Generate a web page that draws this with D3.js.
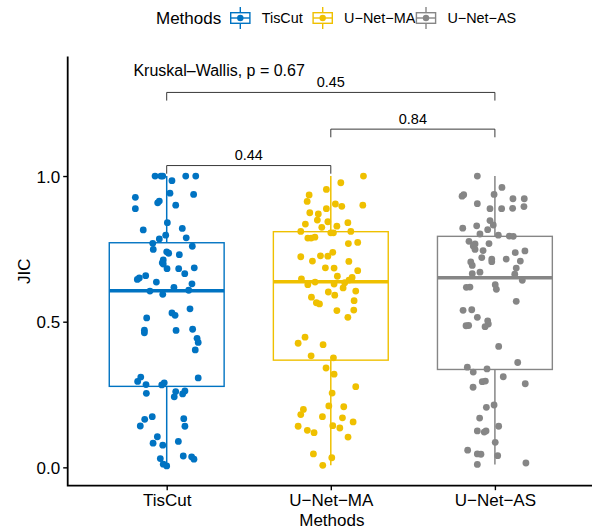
<!DOCTYPE html>
<html>
<head>
<meta charset="utf-8">
<script src="https://cdn.jsdelivr.net/npm/d3@7"></script>
<style>
  body { margin: 0; background: #fff; }
  svg { display: block; }
  text { font-family: "Liberation Sans", Arial, Helvetica, sans-serif; fill: #000; }
</style>
</head>
<body>
<svg id="chart" width="592" height="528"></svg>
<script>
// groups and palette (ggpubr "jco")
var groups = ["TisCut", "U\u2212Net\u2212MA", "U\u2212Net\u2212AS"];
var colors = ["#0073C2", "#EFC000", "#868686"];

// JIC values and horizontal jitter (in category units)
var tisCutJIC = [1.0, 1.0, 1.0, 0.984, 1.0, 1.0, 0.927, 0.941, 0.937, 0.888, 0.908, 0.914, 0.900, 0.840, 0.815, 0.820,
  0.797, 0.784, 0.788, 0.769, 0.748, 0.759, 0.740, 0.735, 0.730, 0.712, 0.702, 0.698, 0.682, 0.682, 0.685, 0.665,
  0.658, 0.645, 0.650, 0.636, 0.630, 0.618, 0.605, 0.608, 0.594, 0.544, 0.530, 0.522, 0.513, 0.471, 0.462, 0.470,
  0.474, 0.443, 0.429, 0.403, 0.310, 0.295, 0.284, 0.283, 0.290, 0.307, 0.260, 0.242, 0.262, 0.252, 0.254, 0.174,
  0.165, 0.142, 0.167, 0.141, 0.105, 0.083, 0.076, 0.089, 0.030, 0.039, 0.036, 0.028, 0.011, 0.005];
var tisCutJitter = [-0.071, -0.035, -0.024, 0.032, 0.116, 0.177, -0.191, 0.020, 0.164, -0.191, -0.055, -0.045, 0.055,
  0.004, -0.143, 0.095, -0.006, -0.045, 0.119, -0.085, -0.082, 0.156, 0.000, 0.012, 0.077, -0.021, -0.027, -0.021,
  0.002, 0.073, 0.168, 0.110, -0.128, -0.179, -0.167, -0.063, 0.154, 0.044, -0.102, 0.134, -0.024, 0.142, 0.032,
  0.051, -0.122, -0.136, -0.136, 0.057, 0.158, 0.185, 0.192, 0.174, -0.158, -0.177, -0.126, -0.030, -0.015, 0.192,
  0.055, 0.046, 0.111, 0.097, -0.124, -0.088, -0.134, -0.161, 0.104, 0.111, -0.057, -0.083, -0.024, 0.071, -0.039,
  0.101, 0.152, 0.166, -0.021, 0.000];

var unetMAJIC = [1.0, 0.977, 0.954, 0.935, 0.913, 0.904, 0.896, 0.900, 0.888, 0.874, 0.870, 0.849, 0.843, 0.835, 0.840,
  0.824, 0.828, 0.810, 0.805, 0.805, 0.810, 0.787, 0.787, 0.790, 0.768, 0.772, 0.723, 0.708, 0.726, 0.725, 0.738,
  0.707, 0.685, 0.684, 0.675, 0.656, 0.647, 0.627, 0.636, 0.629, 0.634, 0.643, 0.652, 0.616, 0.605, 0.602, 0.591,
  0.584, 0.565, 0.561, 0.572, 0.538, 0.540, 0.515, 0.447, 0.426, 0.421, 0.383, 0.376, 0.341, 0.320, 0.277, 0.255,
  0.199, 0.181, 0.211, 0.208, 0.174, 0.170, 0.156, 0.141, 0.143, 0.127, 0.119, 0.135, 0.104, 0.046, 0.033, 0.007];
var unetMAJitter = [0.199, 0.061, -0.027, -0.132, -0.144, 0.028, 0.067, 0.195, -0.027, -0.128, -0.076, -0.082, -0.018,
  -0.155, 0.104, -0.055, 0.037, -0.183, 0.000, 0.016, 0.122, -0.140, -0.120, -0.097, 0.107, 0.164, -0.183, -0.112,
  -0.063, -0.018, 0.012, 0.110, -0.033, 0.020, 0.164, 0.040, -0.179, -0.140, -0.096, 0.020, 0.085, 0.111, 0.130,
  0.075, 0.152, -0.015, 0.024, -0.118, -0.088, -0.069, 0.142, 0.037, 0.140, 0.104, -0.157, -0.199, -0.047, -0.120,
  0.016, -0.029, 0.020, 0.152, 0.008, -0.167, -0.183, -0.012, 0.079, -0.051, 0.071, 0.136, -0.199, 0.012, -0.143,
  -0.102, 0.055, 0.105, -0.106, 0.006, -0.049];

var unetASJIC = [1.0, 0.961, 0.937, 0.931, 0.936, 0.922, 0.922, 0.905, 0.888, 0.888, 0.889, 0.895, 0.847, 0.832, 0.829,
  0.816, 0.821, 0.801, 0.797, 0.794, 0.793, 0.776, 0.767, 0.760, 0.748, 0.768, 0.744, 0.737, 0.743, 0.720, 0.715,
  0.706, 0.715, 0.708, 0.705, 0.693, 0.684, 0.670, 0.665, 0.663, 0.642, 0.618, 0.619, 0.627, 0.611, 0.570, 0.539,
  0.541, 0.515, 0.503, 0.492, 0.483, 0.486, 0.487, 0.415, 0.360, 0.344, 0.327, 0.338, 0.311, 0.294, 0.296, 0.287,
  0.275, 0.214, 0.206, 0.169, 0.141, 0.125, 0.121, 0.125, 0.086, 0.059, 0.046, 0.045, 0.040, 0.010, 0.015];
var unetASJitter = [-0.107, 0.043, -0.005, -0.200, -0.190, 0.110, 0.179, -0.107, -0.030, 0.041, 0.108, 0.177, -0.030,
  -0.010, -0.111, -0.044, -0.196, -0.091, 0.021, 0.088, 0.112, -0.158, -0.121, -0.132, -0.121, -0.036, -0.072, 0.124,
  0.183, -0.080, -0.019, -0.019, 0.069, 0.155, -0.147, -0.138, 0.130, -0.091, -0.138, 0.121, 0.167, -0.174, -0.152,
  0.002, 0.009, 0.130, -0.194, -0.141, -0.107, -0.044, -0.040, -0.060, -0.176, -0.160, 0.023, 0.139, -0.168, -0.132,
  -0.048, 0.051, -0.077, -0.058, 0.185, -0.133, -0.005, -0.052, -0.093, 0.023, -0.107, -0.065, -0.054, 0.002, -0.166,
  -0.107, -0.085, 0.017, -0.107, 0.189];

// box statistics per group
var boxQ1 = [0.278, 0.368, 0.336];
var boxMedian = [0.606, 0.637, 0.651];
var boxQ3 = [0.771, 0.809, 0.793];
var whiskerLow = [0.005, 0.007, 0.010];
var whiskerHigh = [1.0, 1.0, 1.0];

var yTicks = [0, 0.5, 1.0];

// pairwise comparisons (wilcoxon) and the global test
var compFrom = [0, 1, 0];
var compTo = [1, 2, 2];
var compP = ["0.44", "0.84", "0.45"];
var compY = [1.036, 1.161, 1.287];
var globalLabel = "Kruskal\u2013Wallis, p = 0.67";
var globalY = 1.344;

var pointsJIC = [tisCutJIC, unetMAJIC, unetASJIC];
var pointsJitter = [tisCutJitter, unetMAJitter, unetASJitter];

var panelLeft = 67.7, panelRight = 600, panelTop = 56.6, panelBottom = 485.7;
var boxWidth = 0.7, tipLen = 0.028;

var svg = d3.select("#chart");

var x = d3.scalePoint()
    .domain(groups)
    .range([166.7, 494.9]);
var step = x.step();

var y = d3.scaleLinear()
    .domain([-0.063, 1.41])
    .range([panelBottom, panelTop]);

// boxplots
var boxes = svg.append("g").attr("class", "boxes");
groups.forEach(function(g, i) {
    var cx = x(g);
    var half = boxWidth * step / 2;
    var grp = boxes.append("g").attr("stroke", colors[i]).attr("fill", "none");
    grp.append("line")
        .attr("x1", cx).attr("x2", cx)
        .attr("y1", y(boxQ3[i])).attr("y2", y(whiskerHigh[i]))
        .attr("stroke-width", 1.5);
    grp.append("line")
        .attr("x1", cx).attr("x2", cx)
        .attr("y1", y(boxQ1[i])).attr("y2", y(whiskerLow[i]))
        .attr("stroke-width", 1.5);
    grp.append("rect")
        .attr("x", cx - half).attr("width", 2 * half)
        .attr("y", y(boxQ3[i])).attr("height", y(boxQ1[i]) - y(boxQ3[i]))
        .attr("fill", "#fff")
        .attr("stroke-width", 1.4);
    grp.append("line")
        .attr("x1", cx - half).attr("x2", cx + half)
        .attr("y1", y(boxMedian[i])).attr("y2", y(boxMedian[i]))
        .attr("stroke-width", 3.6);
});

// jittered points
var dots = svg.append("g").attr("class", "dots");
groups.forEach(function(g, i) {
    dots.append("g")
        .selectAll("circle")
        .data(pointsJIC[i].map(function(v, k) { return {v: v, j: pointsJitter[i][k]}; }))
        .enter()
        .append("circle")
            .attr("cx", function(d) { return x(g) + d.j * step; })
            .attr("cy", function(d) { return y(d.v); })
            .attr("r", 3.4)
            .style("fill", colors[i]);
});

// axes
var yAxis = svg.append("g")
    .attr("transform", "translate(" + panelLeft + ",0)")
    .call(d3.axisLeft(y).tickValues(yTicks).tickFormat(d3.format(".1f")).tickSize(4.5).tickSizeOuter(0).tickPadding(3));
yAxis.select(".domain").remove();
yAxis.selectAll(".tick line").attr("stroke", "#000").attr("stroke-width", 1.4);
yAxis.selectAll(".tick text").style("font-size", "17px").attr("fill", "#000").attr("dy", "0.36em");

var xAxis = svg.append("g")
    .attr("transform", "translate(0," + panelBottom + ")")
    .call(d3.axisBottom(x).tickSize(4.5).tickSizeOuter(0).tickPadding(4));
xAxis.select(".domain").remove();
xAxis.selectAll(".tick line").attr("stroke", "#000").attr("stroke-width", 1.4);
xAxis.selectAll(".tick text").style("font-size", "17px").attr("fill", "#000");

svg.append("path")
    .attr("d", "M" + panelLeft + "," + panelTop + "V" + panelBottom + "H" + panelRight)
    .attr("fill", "none")
    .attr("stroke", "#000")
    .attr("stroke-width", 1.8);

svg.append("text")
    .attr("x", (panelLeft + 592) / 2 + 2)
    .attr("y", 525.5)
    .attr("text-anchor", "middle")
    .style("font-size", "17px")
    .text("Methods");

svg.append("text")
    .attr("transform", "translate(30," + ((panelTop + panelBottom) / 2) + ") rotate(-90)")
    .attr("text-anchor", "middle")
    .style("font-size", "17px")
    .text("JIC");

// comparison brackets
var brackets = svg.append("g").attr("class", "brackets");
compP.forEach(function(p, i) {
    var x1 = x(groups[compFrom[i]]), x2 = x(groups[compTo[i]]);
    brackets.append("path")
        .attr("d", "M" + x1 + "," + y(compY[i] - tipLen) + "V" + y(compY[i]) + "H" + x2 + "V" + y(compY[i] - tipLen))
        .attr("fill", "none")
        .attr("stroke", "#222")
        .attr("stroke-width", 0.9);
    brackets.append("text")
        .attr("x", (x1 + x2) / 2)
        .attr("y", y(compY[i]) - 5.5)
        .attr("text-anchor", "middle")
        .style("font-size", "14.5px")
        .text(p);
});

svg.append("text")
    .attr("x", x(groups[0]) - 0.203 * step)
    .attr("y", y(globalY))
    .style("font-size", "16px")
    .text(globalLabel);

// legend
var legend = svg.append("g").attr("class", "legend");
legend.append("text")
    .attr("x", 156).attr("y", 24)
    .style("font-size", "17px")
    .text("Methods");
var keyX = [240.3, 322.7, 426];
groups.forEach(function(g, i) {
    var k = legend.append("g")
        .attr("transform", "translate(" + keyX[i] + ",18)")
        .attr("stroke", colors[i]).attr("fill", "none");
    k.append("line").attr("x1", 0).attr("x2", 0).attr("y1", -11).attr("y2", 11).attr("stroke-width", 1.4);
    k.append("rect").attr("x", -9.6).attr("y", -5.3).attr("width", 19.2).attr("height", 10.6)
        .attr("fill", "#fff").attr("stroke-width", 1.4);
    k.append("line").attr("x1", -9.6).attr("x2", 9.6).attr("y1", 0).attr("y2", 0).attr("stroke-width", 1.4);
    k.append("circle").attr("r", 3.2).attr("stroke", "none").attr("fill", colors[i]);
    legend.append("text")
        .attr("x", keyX[i] + 21.4).attr("y", 23.3)
        .style("font-size", "14.4px")
        .text(g);
});
</script>
</body>
</html>
